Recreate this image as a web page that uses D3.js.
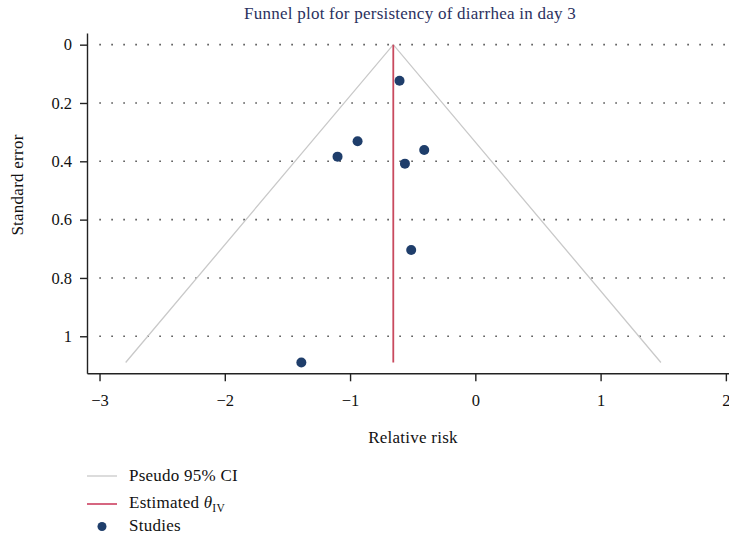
<!DOCTYPE html>
<html>
<head>
<meta charset="utf-8">
<script src="https://cdn.jsdelivr.net/npm/d3@7"></script>
<style>
  html, body { margin: 0; padding: 0; background: #fff; }
  svg { display: block; }
  text { font-family: "Liberation Serif", "DejaVu Serif", serif; }
</style>
</head>
<body>
<svg id="chart" width="729" height="539"></svg>
<script>
// Study estimates (log relative risk) and their standard errors
const studyLogRR = [-0.605, -0.940, -1.100, -0.408, -0.562, -0.512, -1.389];
const studySE    = [0.124, 0.331, 0.384, 0.361, 0.408, 0.704, 1.090];

// Pooled inverse-variance estimate
const thetaIV = -0.655;

// Axis ticks
const xTicks = [-3, -2, -1, 0, 1, 2];
const yTicks = [0, 0.2, 0.4, 0.6, 0.8, 1];

// Axis extents
const xExtent = [-3.1, 2.025];
const yExtent = [-0.04, 1.127];

const titleText = "Funnel plot for persistency of diarrhea in day 3";
const xTitle = "Relative risk";
const yTitle = "Standard error";

const svg = d3.select("#chart");

const plot = { left: 87, right: 729, top: 33, bottom: 373.3 };

const x = d3.scaleLinear().domain(xExtent).range([plot.left, plot.right]);
const y = d3.scaleLinear().domain(yExtent).range([plot.top, plot.bottom]);

const labelStyle = sel => sel
  .attr("font-size", 17)
  .attr("letter-spacing", 0.25);

// Title
svg.append("text")
  .attr("x", 410).attr("y", 19)
  .attr("text-anchor", "middle")
  .attr("fill", "#2b3160")
  .call(labelStyle)
  .text(titleText);

// Dotted horizontal grid at each y tick
svg.append("g")
  .selectAll("line")
  .data(yTicks)
  .join("line")
  .attr("x1", 99.3).attr("x2", plot.right)
  .attr("y1", d => y(d)).attr("y2", d => y(d))
  .attr("stroke", "#555")
  .attr("stroke-width", 1.6)
  .attr("stroke-dasharray", "1.6 10.4");

// Pseudo 95% confidence limits
const seMax = d3.max(studySE);
const funnel = [
  [thetaIV - 1.96 * seMax, seMax],
  [thetaIV, 0],
  [thetaIV + 1.96 * seMax, seMax]
];
svg.append("path")
  .datum(funnel)
  .attr("d", d3.line().x(d => x(d[0])).y(d => y(d[1])))
  .attr("fill", "none")
  .attr("stroke", "#c9c9c9")
  .attr("stroke-width", 1.3);

// Pooled estimate line
svg.append("line")
  .attr("x1", x(thetaIV)).attr("x2", x(thetaIV))
  .attr("y1", y(0)).attr("y2", y(seMax))
  .attr("stroke", "#c94a5e")
  .attr("stroke-width", 1.8);

// Studies
svg.append("g")
  .selectAll("circle")
  .data(studyLogRR.map((v, i) => [v, studySE[i]]))
  .join("circle")
  .attr("cx", d => x(d[0]))
  .attr("cy", d => y(d[1]))
  .attr("r", 5)
  .attr("fill", "#1f3e6b");

// Axes
const yAxis = d3.axisLeft(y)
  .tickValues(yTicks)
  .tickFormat(d3.format("~g"))
  .tickSize(7).tickSizeOuter(0).tickPadding(8);
const gy = svg.append("g")
  .attr("transform", `translate(${plot.left},0)`)
  .call(yAxis);

const xAxis = d3.axisBottom(x)
  .tickValues(xTicks)
  .tickFormat(d3.format("d"))
  .tickSize(8).tickSizeOuter(0).tickPadding(13);
const gx = svg.append("g")
  .attr("transform", `translate(0,${plot.bottom})`)
  .call(xAxis);

[gx, gy].forEach(g => {
  g.select(".domain").attr("stroke", "#222").attr("stroke-width", 1.4);
  g.selectAll(".tick line").attr("stroke", "#222").attr("stroke-width", 1.4);
  g.selectAll(".tick text")
    .attr("font-family", "Liberation Serif, DejaVu Serif, serif")
    .attr("font-size", 16.5)
    .attr("fill", "#111");
});

// Axis titles
svg.append("text")
  .attr("x", 413).attr("y", 443)
  .attr("text-anchor", "middle")
  .attr("fill", "#111")
  .call(labelStyle)
  .text(xTitle);

svg.append("text")
  .attr("transform", "translate(23,185) rotate(-90)")
  .attr("text-anchor", "middle")
  .attr("fill", "#111")
  .call(labelStyle)
  .text(yTitle);

// Legend
const legend = svg.append("g");
legend.append("line")
  .attr("x1", 87).attr("x2", 117).attr("y1", 476).attr("y2", 476)
  .attr("stroke", "#c9c9c9").attr("stroke-width", 1.3);
legend.append("text")
  .attr("x", 129).attr("y", 481)
  .attr("fill", "#111")
  .call(labelStyle)
  .text("Pseudo 95% CI");

legend.append("line")
  .attr("x1", 87).attr("x2", 117).attr("y1", 504).attr("y2", 504)
  .attr("stroke", "#c0143c").attr("stroke-width", 1.3);
const est = legend.append("text")
  .attr("x", 129).attr("y", 508)
  .attr("fill", "#111")
  .call(labelStyle);
est.append("tspan").text("Estimated ");
est.append("tspan").attr("font-style", "italic").text("θ");
est.append("tspan").attr("font-size", 11.5).attr("dy", 4).text("IV");

legend.append("circle")
  .attr("cx", 102).attr("cy", 526.5).attr("r", 4.5)
  .attr("fill", "#1f3e6b");
legend.append("text")
  .attr("x", 129).attr("y", 531)
  .attr("fill", "#111")
  .call(labelStyle)
  .text("Studies");
</script>
</body>
</html>
